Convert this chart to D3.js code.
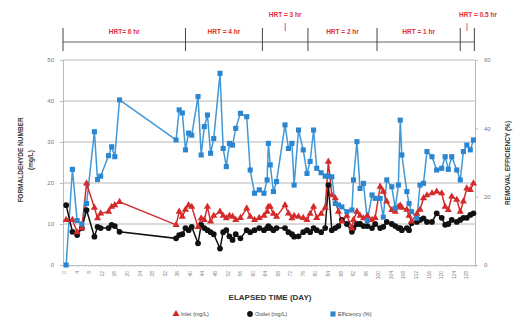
<!DOCTYPE html>
<html>
<head>
<meta charset="utf-8">
<script src="https://cdn.jsdelivr.net/npm/d3@7"></script>
<style>
  body { margin: 0; background: #fff; }
  svg { display: block; font-family: "Liberation Sans", Arial, sans-serif; }
</style>
</head>
<body>
<div id="root"></div>
<script>
// elapsed time (day) of each sample
const days = [0,2,3.5,5,6.5,9,10,11,13.5,14.5,15.5,17,
  35,36,37,38,39,40,42,43,44,45,46,47,49,50,51,52,53,54,55.5,57.5,58.6,60,61.5,63,64,64.4,65,66,67,
  69.7,70.8,71.9,72.6,74,75.5,76.7,77.7,78.8,79.8,81.2,82.5,83.5,84.6,85.7,86.7,87.8,89.4,91,91.5,92.6,93.6,94.7,95.9,97.4,98.4,
  100,101,102.1,103.7,104.8,105.8,106.4,106.9,108.5,109.2,110,111.7,112.7,113.8,114.9,116.5,118,119.6,120.7,121.7,122.8,124.4,125.5,126.5,127.6,128.7,129.7];

// inlet formaldehyde (mg/L)
const inlet = [11,11,8,9,19.9,14,11.4,12.6,13,14.2,14.6,15.4,
  9.8,13,11.8,13.5,14.6,14.2,9.3,11.4,11,14.2,10.6,12,13,12,11.4,12,11.8,11,11.5,13.8,11.8,11,11.5,12,13,14.2,14.2,12.5,11.8,
  14.6,12.6,11.4,12,11.8,11.5,11,12.5,14.2,11.5,12.5,14,25.2,17,16.3,13,10.6,12,9,11,13,12,11.4,12,11,11.5,
  19.1,17.9,15.5,13.4,13,14.2,14.5,14,13.5,12,10.6,12.5,13.5,16.3,17,17.5,17.9,17.5,14.2,13.4,16.7,15.9,13,15.5,18.7,18.3,19.9];

// outlet formaldehyde (mg/L)
const outlet = [14.6,8.1,7.3,9,13.4,6.9,9.3,9,9,9.8,9.5,8.1,
  6.5,7.3,7.5,9,8.5,9.3,5.3,9.8,9,8.5,8,7.5,4,8,8.5,7,6.1,7.5,6.5,8.5,8,8.5,9,8.5,9,9.5,9,8.5,9,
  9,8,7.5,6.9,7,8,8.5,8,9,8.5,8,9,19.5,8.5,9,9.5,11,10,8.1,9,10,10,9.5,9.5,9,10,
  9,9.3,10.5,10,9.5,9,9,8.5,9,8.5,10.2,10.5,11,11.4,10.5,10.5,12.6,11.5,9.8,10,11,10.5,11,11.5,11.5,12.2,12.6];

// removal efficiency (%)
const efficiency = [0,28,13,12,18,39,25,26,32,34.6,31.7,48.3,
  36.6,45.4,44.5,33.7,38.6,38,49.3,32.2,40.5,43.9,32.7,37,56.1,34.1,28.8,35.6,35.1,40,44.4,43.4,27.8,21,22,21,24.9,35.6,29.3,21.5,24.4,
  41,34.1,35.6,23.4,39.5,33.7,26.8,30.3,39.5,28.3,27,26,26,25.8,18,17.6,17,15.6,16.1,24.9,36.1,22.4,23.9,13,20.5,19.5,
  19.5,14,24.9,22.9,16.6,23.4,42.4,32.2,21.5,18,15.6,13.7,23.4,23.9,33.2,31.7,27.8,28.3,31.7,28,31.7,27.8,24.9,33.2,35.1,33.7,36.6];

const dayTicks = d3.range(0, 129, 4);
const leftTicks = [0, 10, 20, 30, 40, 50];
const rightTicks = [0, 20, 40, 60];

// HRT phases (day boundaries) and labels
const hrtBounds = [-1, 38, 62.5, 77, 99, 125.5, 130];
const hrtLabels = ["HRT= 6 hr", "HRT = 4 hr", "HRT = 3 hr", "HRT = 2 hr", "HRT = 1 hr", "HRT = 0.5 hr"];

const legendItems = ["Inlet (mg/L)", "Outlet (mg/L)", "Efficiency (%)"];

const width = 523, height = 321;
const mLeft = 63, mRight = 475, mTop = 60, mBottom = 265;

const svg = d3.select("#root").append("svg")
  .attr("width", width)
  .attr("height", height);

const x = d3.scaleLinear().domain([-1, 130.2]).range([mLeft, mRight]);
const yL = d3.scaleLinear().domain([0, 50]).range([mBottom, mTop]);
const yR = d3.scaleLinear().domain([0, 60]).range([mBottom, mTop]);

// gridlines
svg.append("g")
  .selectAll("line")
  .data(leftTicks.slice(1))
  .enter().append("line")
    .attr("x1", mLeft).attr("x2", mRight)
    .attr("y1", d => yL(d)).attr("y2", d => yL(d))
    .attr("stroke", "#b8b8b8")
    .attr("stroke-width", 1);

// left axis
const axL = svg.append("g")
  .attr("transform", `translate(${mLeft},0)`)
  .call(d3.axisLeft(yL).tickValues(leftTicks).tickSize(3).tickPadding(6));
axL.select(".domain").attr("stroke", "#bbb");
axL.selectAll(".tick line").attr("stroke", "#bbb");
axL.selectAll("text").attr("font-size", 6).attr("fill", "#777");

// right axis
const axR = svg.append("g")
  .attr("transform", `translate(${mRight},0)`)
  .call(d3.axisRight(yR).tickValues(rightTicks).tickSize(3).tickPadding(6));
axR.select(".domain").attr("stroke", "#bbb");
axR.selectAll(".tick line").attr("stroke", "#bbb");
axR.selectAll("text").attr("font-size", 6).attr("fill", "#777");

// bottom axis: minor ticks each day, labels every 4 days
const axMinor = svg.append("g")
  .attr("transform", `translate(0,${mBottom})`)
  .call(d3.axisBottom(x).tickValues(d3.range(0, 131, 1)).tickSize(2).tickFormat(""));
axMinor.select(".domain").attr("stroke", "#bbb");
axMinor.selectAll(".tick line").attr("stroke", "#c8c8c8");

const axB = svg.append("g")
  .attr("transform", `translate(0,${mBottom})`)
  .call(d3.axisBottom(x).tickValues(dayTicks).tickSize(0));
axB.select(".domain").remove();
axB.selectAll("text")
  .attr("font-size", 5)
  .attr("fill", "#888")
  .attr("transform", "rotate(-90)")
  .attr("text-anchor", "end")
  .attr("x", -6)
  .attr("y", -2)
  .attr("dy", "0.32em");

// series
const lineOf = (vals, y) => d3.line()
  .x((d, i) => x(days[i]))
  .y(d => y(d))(vals);

svg.append("path")
  .attr("d", lineOf(efficiency, yR))
  .attr("fill", "none")
  .attr("stroke", "#4198d8")
  .attr("stroke-width", 1.5);

svg.append("path")
  .attr("d", lineOf(inlet, yL))
  .attr("fill", "none")
  .attr("stroke", "#d42a2a")
  .attr("stroke-width", 1.5);

svg.append("path")
  .attr("d", lineOf(outlet, yL))
  .attr("fill", "none")
  .attr("stroke", "#111")
  .attr("stroke-width", 1.5);

const tri = d3.symbol().type(d3.symbolTriangle).size(22);
const sq = d3.symbol().type(d3.symbolSquare).size(26);
const circ = d3.symbol().type(d3.symbolCircle).size(26);

svg.append("g").selectAll("path")
  .data(outlet)
  .enter().append("path")
    .attr("d", circ)
    .attr("transform", (d, i) => `translate(${x(days[i])},${yL(d)})`)
    .attr("fill", "#111");

svg.append("g").selectAll("path")
  .data(inlet)
  .enter().append("path")
    .attr("d", tri)
    .attr("transform", (d, i) => `translate(${x(days[i])},${yL(d)})`)
    .attr("fill", "#d42a2a");

svg.append("g").selectAll("path")
  .data(efficiency)
  .enter().append("path")
    .attr("d", sq)
    .attr("transform", (d, i) => `translate(${x(days[i])},${yR(d)})`)
    .attr("fill", "#2b86cf");

// HRT timeline
const hrt = svg.append("g");
hrt.append("line")
  .attr("x1", x(hrtBounds[0])).attr("x2", x(hrtBounds[hrtBounds.length - 1]))
  .attr("y1", 42).attr("y2", 42)
  .attr("stroke", "#999").attr("stroke-width", 1.5);
hrt.selectAll(".b")
  .data(hrtBounds)
  .enter().append("line")
    .attr("x1", d => x(d)).attr("x2", d => x(d))
    .attr("y1", 28).attr("y2", 51)
    .attr("stroke", "#444").attr("stroke-width", 1);

const raised = [false, false, true, false, false, true];
hrt.selectAll("text")
  .data(hrtLabels)
  .enter().append("text")
    .attr("x", (d, i) => i === 5 ? 478 : (x(hrtBounds[i]) + x(hrtBounds[i + 1])) / 2)
    .attr("y", (d, i) => raised[i] ? 17 : 34)
    .attr("text-anchor", "middle")
    .attr("font-size", 6.5)
    .attr("font-weight", "bold")
    .attr("fill", "#e03030")
    .text(d => d);
hrt.selectAll(".m")
  .data(hrtLabels.filter((d, i) => raised[i]))
  .enter().append("line")
    .attr("x1", (d, i) => i === 0 ? (x(hrtBounds[2]) + x(hrtBounds[3])) / 2 : 467)
    .attr("x2", (d, i) => i === 0 ? (x(hrtBounds[2]) + x(hrtBounds[3])) / 2 : 467)
    .attr("y1", 23).attr("y2", 31)
    .attr("stroke", "#e03030").attr("stroke-width", 0.8);

// axis titles
svg.append("text")
  .attr("transform", "translate(23,160) rotate(-90)")
  .attr("text-anchor", "middle")
  .attr("font-size", 6.5).attr("font-weight", "bold").attr("fill", "#333")
  .text("FORMALDEHYDE NUMBER");
svg.append("text")
  .attr("transform", "translate(33,160) rotate(-90)")
  .attr("text-anchor", "middle")
  .attr("font-size", 6.5).attr("font-weight", "bold").attr("fill", "#333")
  .text("(mg/L)");
svg.append("text")
  .attr("transform", "translate(510,163) rotate(-90)")
  .attr("text-anchor", "middle")
  .attr("font-size", 6.5).attr("font-weight", "bold").attr("fill", "#333")
  .text("REMOVAL EFFICIENCY (%)");
svg.append("text")
  .attr("x", 270).attr("y", 300)
  .attr("text-anchor", "middle")
  .attr("font-size", 8).attr("font-weight", "bold").attr("fill", "#333")
  .text("ELAPSED TIME (DAY)");

// legend
const legX = [176, 250, 333];
const legSym = [tri, circ, sq];
const legCol = ["#d42a2a", "#111", "#2b86cf"];
const leg = svg.append("g").selectAll("g")
  .data(legendItems)
  .enter().append("g")
    .attr("transform", (d, i) => `translate(${legX[i]},314)`);
leg.append("path")
  .attr("d", (d, i) => legSym[i]())
  .attr("fill", (d, i) => legCol[i]);
leg.append("text")
  .attr("x", 5).attr("dy", "0.32em")
  .attr("font-size", 5.5).attr("fill", "#444")
  .text(d => d);
</script>
</body>
</html>
